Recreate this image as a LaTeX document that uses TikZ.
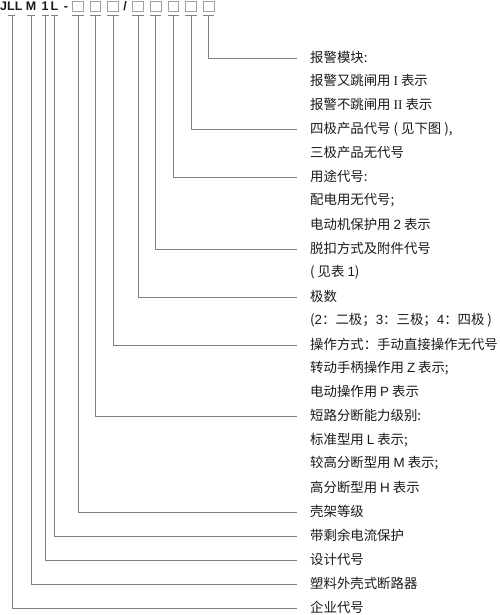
\documentclass[tikz,border=0pt]{standalone}
\usepackage{fontspec}
\setmainfont{Liberation Sans}
\newfontfamily\cjk{Noto Sans CJK SC}
\newfontfamily\romfont{Liberation Serif}
\definecolor{linegray}{HTML}{808080}
\definecolor{boxgray}{HTML}{A0A0A0}
\definecolor{txt}{HTML}{1A1A1A}
\begin{document}
\begin{tikzpicture}[x=1pt,y=-1pt,
  lbl/.style={anchor=west,inner sep=0pt,font=\cjk\fontsize{13.4}{13.4}\selectfont,text=txt},
  hdr/.style={inner sep=0pt,anchor=base,font=\bfseries\fontsize{12.5}{12.5}\selectfont,text=txt},
  cbox/.style={draw=boxgray,line width=0.8pt,minimum width=10.5pt,minimum height=10pt,inner sep=0pt},
  conn/.style={draw=linegray,line width=0.9pt},
  tbar/.style={draw=linegray,line width=0.9pt}]
\useasboundingbox (0,0) rectangle (500,615);
% header
\node[hdr,anchor=base west] (hJ) at (0,10.3) {JLL};
\node[hdr] (hM) at (31,10.3) {M};
\node[hdr] (h1) at (45,10.3) {1};
\node[hdr] (hL) at (54.5,10.3) {L};
\node[hdr] (hd) at (66,10.3) {-};
\node[hdr] (hs) at (125,10.3) {/};
\node[cbox] (b1) at (78,6.5) {};
\node[cbox] (b2) at (95.5,6.5) {};
\node[cbox] (b3) at (113,6.5) {};
\node[cbox] (b4) at (138,6.5) {};
\node[cbox] (b5) at (155.7,6.5) {};
\node[cbox] (b6) at (173.4,6.5) {};
\node[cbox] (b7) at (191.1,6.5) {};
\node[cbox] (b8) at (208.8,6.5) {};
\coordinate (bar) at (0,15);
% labels
\node[lbl] (r1)  at (310,57.0)  {报警模块:};
\node[lbl] (r2)  at (310,80.9)  {报警又跳闸用 {\romfont I} 表示};
\node[lbl] (r3)  at (310,104.8) {报警不跳闸用 {\romfont II} 表示};
\node[lbl] (r4)  at (310,128.8) {四极产品代号 ( 见下图 ),};
\node[lbl] (r5)  at (310,152.7) {三极产品无代号};
\node[lbl] (r6)  at (310,176.6) {用途代号:};
\node[lbl] (r7)  at (310,200.5) {配电用无代号;};
\node[lbl] (r8)  at (310,224.4) {电动机保护用 {\rmfamily 2} 表示};
\node[lbl] (r9)  at (310,248.4) {脱扣方式及附件代号};
\node[lbl] (r10) at (310,272.3) {( 见表 {\rmfamily 1})};
\node[lbl] (r11) at (310,296.2) {极数};
\node[lbl] (r12) at (310,320.1) {({\rmfamily 2}：二极；{\rmfamily 3}：三极；{\rmfamily 4}：四极 )};
\node[lbl] (r13) at (310,344.0) {操作方式：手动直接操作无代号};
\node[lbl] (r14) at (310,368.0) {转动手柄操作用 {\rmfamily Z} 表示;};
\node[lbl] (r15) at (310,391.9) {电动操作用 {\rmfamily P} 表示};
\node[lbl] (r16) at (310,415.8) {短路分断能力级别:};
\node[lbl] (r17) at (310,439.7) {标准型用 {\rmfamily L} 表示;};
\node[lbl] (r18) at (310,463.6) {较高分断型用 {\rmfamily M} 表示;};
\node[lbl] (r19) at (310,487.6) {高分断型用 {\rmfamily H} 表示};
\node[lbl] (r20) at (310,511.5) {壳架等级};
\node[lbl] (r21) at (310,535.4) {带剩余电流保护};
\node[lbl] (r22) at (310,559.3) {设计代号};
\node[lbl] (r23) at (310,583.2) {塑料外壳式断路器};
\node[lbl] (r24) at (310,607.2) {企业代号};
% T bars
\foreach \b in {b1,b2,b3,b4,b5,b6,b7,b8}
  \draw[tbar] (\b.south west |- bar) -- (\b.south east |- bar);
\draw[tbar] ([xshift=-3.5pt]hJ.south |- bar) -- ([xshift=3.5pt]hJ.south |- bar);
\draw[tbar] ([xshift=-4pt]hM.south |- bar) -- ([xshift=4pt]hM.south |- bar);
\draw[tbar] ([xshift=-3.5pt]h1.south |- bar) -- ([xshift=3.5pt]h1.south |- bar);
\draw[tbar] ([xshift=-3.5pt]hL.south |- bar) -- ([xshift=3.5pt]hL.south |- bar);
% connectors
\draw[conn] (b8.south |- bar) |- ([xshift=-13pt,yshift=-1pt]r1.west);
\draw[conn] (b7.south |- bar) |- ([xshift=-13pt,yshift=-1pt]r4.west);
\draw[conn] (b6.south |- bar) |- ([xshift=-13pt,yshift=-1pt]r6.west);
\draw[conn] (b5.south |- bar) |- ([xshift=-13pt,yshift=-1pt]r9.west);
\draw[conn] (b4.south |- bar) |- ([xshift=-13pt,yshift=-1pt]r11.west);
\draw[conn] (b3.south |- bar) |- ([xshift=-13pt,yshift=-1pt]r13.west);
\draw[conn] (b2.south |- bar) |- ([xshift=-13pt,yshift=-1pt]r16.west);
\draw[conn] (b1.south |- bar) |- ([xshift=-13pt,yshift=-1pt]r20.west);
\draw[conn] (hL.south |- bar) |- ([xshift=-13pt,yshift=-1pt]r21.west);
\draw[conn] (h1.south |- bar) |- ([xshift=-13pt,yshift=-1pt]r22.west);
\draw[conn] (hM.south |- bar) |- ([xshift=-13pt,yshift=-1pt]r23.west);
\draw[conn] ([xshift=1pt]hJ.south |- bar) |- ([xshift=-13pt,yshift=-1pt]r24.west);
\end{tikzpicture}
\end{document}
